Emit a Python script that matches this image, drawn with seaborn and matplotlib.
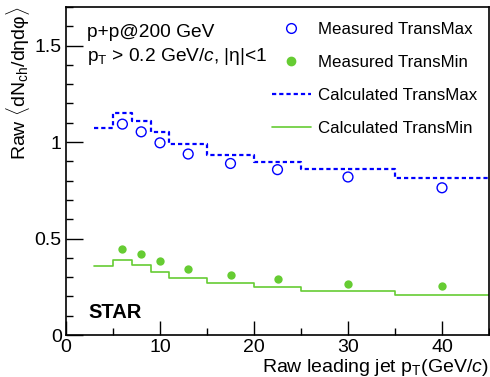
import matplotlib
matplotlib.use("Agg")
import matplotlib.pyplot as plt
import seaborn as sns
import pandas as pd
from matplotlib.lines import Line2D
from matplotlib.ticker import MultipleLocator

# ---- data ----
meas_x = [6, 8, 10, 13, 17.5, 22.5, 30, 40]
meas_max = [1.093, 1.053, 0.996, 0.938, 0.889, 0.857, 0.819, 0.763]
meas_min = [0.447, 0.420, 0.382, 0.344, 0.312, 0.288, 0.265, 0.256]

bin_edges = [3, 5, 7, 9, 11, 15, 20, 25, 35, 45]
calc_max = [1.071, 1.152, 1.110, 1.050, 0.991, 0.934, 0.898, 0.858, 0.813]
calc_min = [0.356, 0.389, 0.361, 0.326, 0.295, 0.267, 0.249, 0.228, 0.206]

legend_labels = ["Measured TransMax", "Measured TransMin",
                 "Calculated TransMax", "Calculated TransMin"]

BLUE = "#0000ff"
GREEN = "#66cc33"

sns.set_style("ticks")
plt.rcParams["font.family"] = ["Liberation Sans", "DejaVu Sans"]
plt.rcParams["mathtext.fontset"] = "custom"
plt.rcParams["mathtext.rm"] = "Liberation Sans"
plt.rcParams["mathtext.it"] = "Liberation Sans:italic"
plt.rcParams["mathtext.sf"] = "Liberation Sans"
for key in ["text.color", "axes.labelcolor", "xtick.color", "ytick.color",
            "xtick.labelcolor", "ytick.labelcolor"]:
    plt.rcParams[key] = "black"

fig = plt.figure(figsize=(4.9, 3.77), dpi=100)
ax = fig.add_axes([66 / 490, 1 - 335 / 377, 423 / 490, 328 / 377])

df_pts = pd.DataFrame({"x": meas_x, "max": meas_max, "min": meas_min})
df_max = pd.DataFrame({"x": bin_edges, "y": calc_max + [calc_max[-1]]})
df_min = pd.DataFrame({"x": bin_edges, "y": calc_min + [calc_min[-1]]})

DASH = [1.9, 1.35]
sns.lineplot(data=df_max, x="x", y="y", ax=ax, drawstyle="steps-post",
             color=BLUE, lw=1.6, estimator=None, sort=False)
ax.lines[-1].set_dashes(DASH)
sns.lineplot(data=df_min, x="x", y="y", ax=ax, drawstyle="steps-post",
             color=GREEN, lw=1.2, estimator=None, sort=False)

sns.scatterplot(data=df_pts, x="x", y="max", ax=ax, marker="o", s=50,
                facecolor="none", edgecolor=BLUE, linewidth=1.0, zorder=5)
sns.scatterplot(data=df_pts, x="x", y="min", ax=ax, marker="o", s=36,
                color=GREEN, edgecolor=GREEN, linewidth=0, zorder=5)

ax.set_xlim(0, 45)
ax.set_ylim(0, 1.7)
ax.xaxis.set_major_locator(MultipleLocator(10))
ax.xaxis.set_minor_locator(MultipleLocator(5))
ax.yaxis.set_minor_locator(MultipleLocator(0.1))
ax.set_yticks([0, 0.5, 1, 1.5])
ax.set_yticklabels(["0", "0.5", "1", "1.5"])
ax.tick_params(which="both", direction="in", top=False, right=False,
               labelsize=14, width=1, color="black", labelcolor="black", pad=3)
ax.tick_params(axis="y", which="major", length=12)
ax.tick_params(axis="x", which="major", length=10)
ax.tick_params(which="minor", length=5)
for s in ax.spines.values():
    s.set_visible(True)
    s.set_color("black")
    s.set_linewidth(1.2)

ax.set_xlabel("Raw leading jet p$_{\\rm T}$(GeV/$c$)", fontsize=14, ha="right",
              va="baseline", color="black")
ax.xaxis.set_label_coords(1.0, -0.113)
ax.set_ylabel("Raw $\\langle$dN$_{\\rm ch}$/dηdφ$\\rangle$", fontsize=14, ha="right",
              va="center", color="black")
ax.yaxis.set_label_coords(-0.113, 1.0)

ax.text(0.05, 0.909, "p+p@200 GeV", transform=ax.transAxes, fontsize=13.8,
        va="baseline", color="black")
ax.text(0.05, 0.835, "p$_{\\rm T}$ > 0.2 GeV/$c$, |η|<1", transform=ax.transAxes,
        fontsize=13.8, va="baseline", color="black")
ax.text(0.052, 0.052, "STAR", transform=ax.transAxes, fontsize=14.5,
        fontweight="bold", va="baseline", color="black")

handles = [
    Line2D([], [], ls="none", marker="o", ms=7, mfc="none", mec=BLUE, mew=1.0),
    Line2D([], [], ls="none", marker="o", ms=6, mfc=GREEN, mec=GREEN),
    Line2D([], [], color=BLUE, lw=1.6, dashes=DASH),
    Line2D([], [], color=GREEN, lw=1.2),
]
leg = ax.legend(handles, legend_labels, loc="upper left", bbox_to_anchor=(0.47, 0.975),
                frameon=False, fontsize=12.2, handlelength=2.3, handletextpad=0.42,
                labelspacing=1.07, borderaxespad=0)
for t in leg.get_texts():
    t.set_color("black")

fig.savefig("out.png", dpi=100)
